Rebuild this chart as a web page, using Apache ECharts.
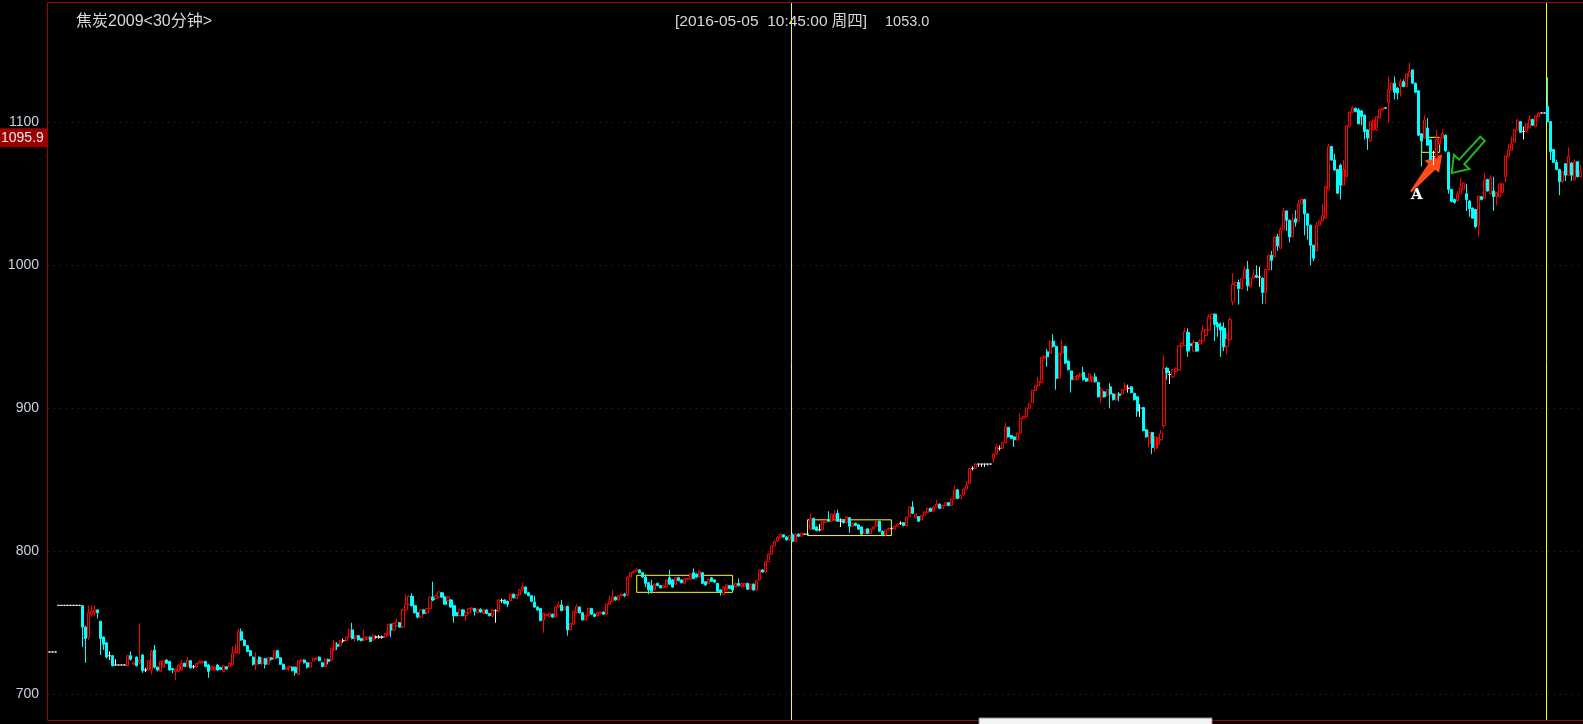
<!DOCTYPE html>
<html><head><meta charset="utf-8">
<script src="https://cdn.jsdelivr.net/npm/echarts@6/dist/echarts.min.js"></script>
<style>html,body{margin:0;padding:0;background:#000;overflow:hidden}#c{width:1583px;height:724px;}</style>
</head><body><div id="c"></div>
<script>
// candle values: [open, close, low, high]
const ohlcA = [
[729.6,729.6,729.6,729.6],[729.6,729.6,729.6,729.6],[729.6,729.6,729.6,729.6],
[762.2,762.2,762.2,762.2],[762.2,762.2,762.2,762.2],[762.2,762.2,762.2,762.2],[762.2,762.2,762.2,762.2],
[762.2,762.2,762.2,762.2],[762.2,762.2,762.2,762.2],[762.2,762.2,762.2,762.2],[762.2,762.2,762.2,762.2],
[762,747,733,762],[747,739,722,748],[740,757,738,762],[756,758,754,762],[757,759,755,762],
[759,757,753,759.5],[751,739,727.5,751.5],[740,735,731,740.5],[736,726,725,736.5],[727,727,724,730],
[727,720,719.5,727.5],[720.5,720.5,720.5,724.5],[720.5,720.5,720.5,720.5],[720.5,720.5,720.5,720.5],[720.5,720.5,720.5,720.5],
[720,727,719.5,727.5],[727,724.5,723.5,730],[721,722,720.5,723],[726,720,719.5,726.5],[722,724,721,749.6],
[727.5,716.6,715,728],[717,717,715.5,718.5],[717,723.5,716.5,724],[717,730,714,731],[731,719,718,734.5],
[719,717,716,719.5],[716,723,715.5,723.5],[719,723.5,718.5,724],[724,721.7,721,724.5],[723,717,716.5,723.5],
[718,717,714.7,718.5],[716,717.5,710,718],[716,720.5,715.5,721],[717,721.7,716.5,724],[721.7,719.5,719,722],
[719.5,724,719,726],[723.5,718.5,718,724],[719.3,719.3,718,720.5],[719,721.7,718.5,722],[721.7,723,721.5,723.5],
[722,723,721.5,723.5],[723,719.5,719,723.5],[720.5,716,711.5,721],[717,719.5,716.5,720],[717,719,716.5,719.5],
[720.5,717,716.5,721],[718.8,717.3,717,719],[716,720,715.5,720.5],[719.3,717.7,717.2,719.6],[719.3,721.7,719,722],
[720.5,728.6,720,733.6],[729,730,728.5,735]
];
const ohlcB = [
[728.6,743.8,728,746],[743.8,738,737.5,746],[738,734,733.5,738.5],[734,730,729.5,734.5],[730.5,727,726.5,731],
[726,721,720,726.5],[721,724,717,729.4],[726,721.5,721,726.5],[721.5,725,720,726],[725,721,718,725.5],
[721,725.5,720.5,726],[725.5,724.5,723.5,726],[724.5,730,724,731],[730.5,725.5,725,731],[725.5,721,720.5,726],
[721,717.5,717,721.5],[717.5,719,717,719.5],[718.5,719.5,716,720],[719,716.5,716,719.5],[719,715,713,719.5],
[714,723.5,713.5,724],[723,724,722,724.5],[724,722,721.5,724.5],[722,719,718,722.5],[719,722,718.5,722.5],
[723.5,725,723,725.5],[724.5,725.5,724,726],[726,723.5,723,726.5],[722,719.5,719,722.5],[719.5,724.5,719,725],
[724.5,723,721,725]
];
const ohlcC = [
[724,732,723,732.5],[731,736,730.5,738],[735,733.5,731,736.5],[734,737.5,733.5,738],[737.5,737.5,736,739],
[737.5,740,737,740.5],[740,745,739.5,746],[745,739,738.5,750],[739,741,736.5,741.5],[741,738,737.5,741.5],
[739,737.5,737,739.5],[738,740,737.5,745],[738.5,740,738,740.5],[740,737,736.5,740.5],[738,741,737.5,742],
[740,740,739,741],[740,740,739,741.5],[740,740,739,741],[740,742.6,739.5,743],[741.5,748.8,741,749.5],
[749,745,740,749.5],[745,749.6,744.5,750],[748,750.5,747.5,753],[750,747,746.5,750.5],[747,759,746.5,760],
[759,763,758.5,770],[763,768.5,762.5,769],[768.5,762,761.5,770.6],[762,757,756.5,762.5],[757,754,753,757.5],
[754,759,753.5,759.5],[759,756.5,756,759.5],[757,760,756.5,760.5],[760,768,759.5,768.5],[768,766,765,778.8],
[767,769,766.5,769.5],[768,771.6,767.5,772],[771,768,767.5,771.5],[768,763,762.5,768.5],[765.5,768,765,768.5],
[766,761,760.5,766.5],[762,755,750,762.5],[757,755,754.5,757.5],[755,759,754.5,759.5],[759,755,754.5,759.5],
[755,757,751,757.5],[757,760,756.5,760.5],[759.5,760.5,759,761],[760,758,755,760.5],[757,759.5,756.5,760],
[759.5,757.5,757,760],[756.5,759,756,759.5],[759,756.5,756,759.5],[756.5,755,754.5,757],[754.5,759,754,759.5],
[758.5,758.5,750,759.5],[758,766,757.5,766.5],[765.5,765.5,764,767],[766,763.6,763,766.5],[765,763,761,765.5],
[765.5,770,765,770.5],[770,767.5,767,770.5],[767,769.5,766.5,770],[769.5,773,769,773.5],[773,775.5,772.5,778],
[775,770.6,770,775.5],[771,769,768.5,771.5],[769,765,764.5,769.5],[764.5,761,760.5,769],[761,759,758.5,761.5],
[760,751.5,751,760.5],[752,756.6,743,757],[755,756,754.5,756.5],[754.5,756.6,754,757],[756,754,753.5,756.5],
[754,761,753.5,761.5],[761,762.5,760.5,765],[762.5,758.5,758,766],[759,761,758.5,761.5],[761.5,745,741,762],
[745,749.5,744.5,750],[749,758,748.5,758.5],[757,761.5,756.5,763],[761,757,756.5,761.5],[757,752,751.5,757.5],
[752,755,751.5,755.5],[755,760,754.5,760.5],[760,756,755.5,760.5],[756,754.5,754,756.5],[755,757,754.5,757.5],
[756.5,757.5,756,758],[757.5,756,755.5,758],[756,763,755.5,763.5],[763,765,762.5,769],[765,768,764.5,773],
[768,766,765.5,768.5],[766,769,765.5,769.5],[769,770,768.5,770.5],[770,769,768,771]
];
const ohlcD = [
[769.5,782,769,782.5],[782,785,781.5,785.5],[785,786,784.5,786.5],[786,787.5,785.5,788],[787,785,784.5,787.5],
[785,782,781.5,785.5],[782,777.6,775,784],[778,773,770,778.5],[776,772,770.6,780],[773,777,772.5,777.5],
[777.6,776,775.5,778],[776,774.5,774,776.5],[774.5,776,774,776.5],[775,780,774.5,780.5],[781.5,777,776.5,787],
[780,775,774.5,780.5],[777,781.5,776.5,782],[781.5,779.5,779,782],[780,778,777.5,780.5],[777.6,781,777,781.5],
[780,781,779.5,781.5],[780.5,784,780,784.5],[785,781,780.5,788],[784,782,781.5,784.5],[782,786,781.5,786.5],
[785,777.6,777,785.5],[778.7,776.5,776,779],[777.5,780.5,777,781],[781.5,779,778.5,782],[780,778.5,778,780.5],
[777.5,772,771.5,778],[773,771,769,773.5],[770,775,769.5,775.5],[773,776.5,772.5,777],[776,774,773.5,776.5],
[776,773,772.5,776.5],[775,777.6,774.5,778],[777.6,776,775.5,781],[775.3,777.6,775,778],[775.3,777.6,775,778],
[777.6,773.5,773,778],[773.5,777,773,777.5],[777,773,772.5,777.5],[773,779.5,772.5,780],[780,787,779.5,787.5],
[787,785.5,785,787.5],[785.5,792.8,785,793],[792.8,798,792.5,798.5],[798,803.7,797.5,804],[803.7,807,803.5,807.5],
[807,809.8,806.5,810.5],[809.5,812,809,812.5],[811.5,810,809.5,812],[810,808,807.5,810.5],[808,811,807.5,811.5],
[811.5,807,806.5,812.5],[806.8,812,806.5,812.5],[812,810.5,810,812.5],[810.5,812.6,810,813],[812,812,812,812],
[812,812,812,812]
];
const ohlcE = [
[815.5,823,815,826.6],[823,815.5,815,823.5],[817,814.5,814,817.5],[815,815,814,819],[815,821,814.5,821.5],
[820,821.6,819.5,822],[822,821,820.5,828],[821,826,820.5,826.5],[822.5,826,822,829],[826.6,821,820.5,829],
[821,821,817,823],[821.5,820,819.5,822],[820,824,819.5,824.5],[823.5,817.5,813,824],[817.5,819.6,817,820],
[819.6,818,817.5,820],[818.5,815.5,815,819],[817,812,811.5,817.5],[812.5,815,812,815.5],[815.7,812.5,812,816],
[812.5,815.5,812,816],[815.5,817,815,817.5],[817.5,820.7,817,822],[821,814,813.5,821.5],[814,811.6,811,814.5],
[811.5,814.7,811,815],[815,816,814.5,816.5],[816,816,815,817],[815.5,817.5,815,818],[817.5,819,817,819.5],
[819.6,819.6,818.5,821],[820,818,817.5,820.5],[818,824,817.5,824.5],[824.3,831,824,831.5],[831,826.6,826,835],
[823.5,826,823,826.5],[824.3,821,820.5,824.5],[822,825,821.5,825.5],[825,827.5,824.5,828],[827,830,826.5,830.5],
[830,828,827.5,830.5],[828,831,827.5,831.5],[831,833,830.5,836],[833,830,829.5,833.5],[830,832,829.5,832.5],
[832,834,831.5,834.5],[834,832,831.5,834.5],[832,836.5,831.5,837]
];
const ohlcF = [
[836.5,843,836,846],[843,837,836.5,843.5],[837,839,836.5,839.5],[839.5,843.5,839,844],[843.5,846.5,843,849],
[847.5,858,847,858.5],[858,858,856.5,859.5],[858,861,857.5,861.5],[861,861,859,861],[861,861,859,861],
[861,861,859,861],[861,861,860,861],[861,861,861,861],[864.6,868,862,868.5],[868,873,867.5,875],
[872,872,870.5,874],[872,876,871.5,876.5],[876,887,875.5,890],[886.7,880,879.5,887],[881,879,878.5,881.5],
[880,878,873,880.5],[878,882.6,877.5,883],[882.6,893,882,896.5],[893,894.3,892.5,894.8],[894,900,893.5,900.5],
[900,903,899.5,903.5],[904,912.5,903.5,913],[912.5,915.6,912,916],[915.6,918.8,915,922],[918,935.6,917.5,936],
[935,936.5,934.5,937],[939.5,936,929,941.5],[938.5,946.9,938,947.5],[947,943.3,942.5,951.9],[943.3,921,913,944],
[921,938.6,920.5,939],[938.6,943.3,938,948],[943.3,931.6,931,943.8],[933,927,926.5,933.5],[926,920,911,926.5],
[920,922,919.5,922.5],[920,923,919.5,923.5],[922.5,924.5,922,925],[925,920,919.5,929],[921,919,918.5,921.5],
[919,924,918.5,924.5],[918.5,922,918,922.5],[922,918.5,918,924.5],[918,908,907.5,918.5],[908,913,904,915],
[911.5,908,907.5,912],[909.2,913,908.5,913.5],[915,910,900,917.6],[910,906,905.5,910.5],[906,910,905.5,910.5],
[910,909,905,911.5],[910,913,909.5,913.5],[913,915.5,912.5,918],[914,914,911,916.5],[915,911,910.5,915.5],
[910.5,906,905.5,911],[908,898,894,908.5],[900,900,894,903],[900.5,884.5,884,901],[885,880,879.5,885.5],
[875.5,883,872.5,884.6],[883,872.6,868,883.5],[872,880,869.6,880.5],[875,879,872,880],[878,882.6,877.5,885],
[888,928,886,937]
];
const ohlcG = [
[928,925,920,929],[923.6,923.6,917,926],[922,927,921.5,927.5],[926,928,925.5,928.5],[927,943.6,926.5,944],
[943.6,945.5,943,946],[944,953.6,943.5,956],[953,940,936,956],[945,944,943.5,945.5],[940,946,939.5,948],
[946,940,939.5,946.5],[945,947,944.5,948],[947,954,946.5,958],[951,955,950.5,955.5],[954.7,964,954.2,966],
[963,965.8,962.5,966.3],[965.8,958.8,947,966.3],[959,957,950,960.5],[957,954.7,936,960],[956,943,940,960],
[943,948.5,938,953],[948,962,947.5,964],[974.5,986.7,972,994.5],[986,988,985.5,988.5],[988,983.7,972.5,990],
[983.7,990.7,983,991],[991,997,990.5,999],[997.2,985.7,982,1003],[985,991,984.5,991.5],[991,993.2,990.5,997],
[993,991.6,991,1000],[991.8,991.8,985,999],[991,981,972.8,991.5],[981,997,972.8,997.5],[997,1007,996.5,1007.5],
[1007,1003.5,996.6,1010],[1006,1019.8,1005.5,1020.3],[1020,1013.5,1010,1022],[1012,1025,1011.5,1027],[1025,1038,1024.5,1040],
[1038,1031.5,1024,1038.5],[1031.5,1019.8,1016,1032],[1020,1031.5,1019.5,1036],[1032.5,1030,1027,1038.5],[1031,1043,1030.5,1046],
[1043,1046,1042.5,1046.5],[1046,1036,1021,1046.5],[1036,1028,1018,1036.5],[1028,1014,1000,1028.5],[1014,1005,1003,1014.5],
[1010,1028,1009.5,1030],[1028,1031,1027.5,1031.5],[1031,1035,1030.5,1043],[1033,1055,1032.5,1056]
];
const ohlcH = [
[1053,1083,1052.5,1085],[1083,1073.7,1073,1083.5],[1073.7,1066.7,1066,1078],[1067,1050.4,1050,1067.5],[1070,1056,1046,1071],
[1056,1067,1055.5,1073.7],[1062,1097.5,1061.5,1098],[1097,1107,1096.5,1107.5],[1107,1110,1106.5,1111],[1109.8,1107.5,1107,1110.3],
[1108.7,1099,1098.5,1110],[1108,1104,1098,1108.5],[1105,1093.5,1088,1105.5],[1094.7,1089,1080.7,1095.2],[1087,1100.5,1086.5,1101],
[1094.7,1101.6,1094.2,1102],[1094.7,1104,1094.2,1104.5],[1103,1109,1102.5,1109.5],[1108.5,1110,1108,1110.5],[1110,1110,1110,1110],
[1113.7,1122.7,1100,1132],[1122.7,1127.3,1122.2,1127.8],[1127.3,1121,1116,1132],[1124,1120.5,1116,1124.5],[1125,1128.4,1118,1130.5],
[1128.4,1125,1124.5,1130],[1125,1133.8,1124.5,1134.3],[1132,1135.5,1131.5,1141.8],[1136.6,1127.3,1126.8,1137],[1127.3,1121,1120.5,1127.8],
[1122,1091,1090.5,1122.5],[1092,1087,1069,1092.5],[1089,1101.6,1088.5,1105],[1096,1084,1083.5,1103],[1087.7,1074,1073.5,1088],
[1076,1076,1070,1080],[1075,1088,1074.5,1094.7],[1085,1089,1084.5,1089.5],[1089,1092,1088.5,1095],[1091,1080,1079.5,1091.5],
[1079,1053,1050,1079.5],[1053,1044.6,1044,1053.5],[1046,1044,1043,1046.5],[1045,1050,1044.5,1052],[1050,1054,1049.5,1061],
[1053,1057.5,1052.5,1058],[1050,1046,1038,1057],[1045,1039.6,1034,1045.5],[1040,1033,1032.5,1040.5],[1039,1027,1026,1039.5],
[1028,1048.3,1020,1048.8],[1048,1046,1045.5,1048.5],[1046.8,1059.8,1046.3,1064.5],[1060,1052,1051.5,1060.5],[1050,1061,1049.5,1063],
[1052,1048,1038,1062],[1048,1051,1042,1051.5],[1047.9,1057,1047.4,1057.5],[1051,1057,1050.5,1057.5],[1062,1076.5,1058,1077],
[1076,1080.7,1075.5,1085],[1080.5,1085,1080,1090],[1086,1094.7,1085.5,1095.2],[1094.7,1101.6,1094.2,1102],[1100.5,1093,1092.5,1101],
[1093.5,1093.5,1088,1097],[1093.5,1099,1093,1099.5],[1096,1102,1095.5,1105],[1102,1098,1097.5,1102.5],[1097,1104.5,1096.5,1105],
[1104,1106.5,1103.5,1107],[1106.5,1106.5,1106.5,1106.5],[1106.5,1106.5,1106.5,1106.5],
[1111,1100.5,1100,1131.5],[1100.5,1079.5,1073.7,1101],[1081,1072,1071.5,1081.5],[1072,1067,1066.5,1074],[1067,1058.5,1049,1067.5],
[1058.5,1065.5,1058,1066],[1071,1063,1059,1071.5],[1063,1076,1062.5,1082.5],[1071.5,1063,1059,1072],[1059.7,1072.4,1059.2,1074],
[1072.4,1062,1061.5,1072.9],[1062,1066,1061.5,1070]
];
const yTicks = [700, 800, 900, 1000, 1100];
const monthBreaks = [248, 500];
// [fromSlot, toSlot, lowValue, highValue]
const boxes = [[196, 228, 771.3, 783.2], [253, 281, 811, 822], [458, 464, 1079, 1089.5]];
const titleText = '焦炭2009<30分钟>';
const cursorText = '[2016-05-05  10:45:00 周四]';
const cursorValue = '1053.0';
const priceTag = 1095.9;

const ohlc = [].concat(ohlcA, ohlcB, ohlcC, ohlcD, ohlcE, ohlcF, ohlcG, ohlcH);
const categories = ohlc.map((d, i) => String(i));

(function () {
const FONT = "'Liberation Sans','Noto Sans CJK SC',sans-serif";
const FRAME = '#a00000';
const chart = echarts.init(document.getElementById('c'), null, {renderer: 'canvas'});
chart.setOption({
  backgroundColor: '#000',
  animation: false,
  grid: {left: 48, right: 1, top: 2, bottom: 3, show: false},
  xAxis: {
    type: 'category', data: categories, boundaryGap: true,
    axisLine: {show: false},
    axisTick: {show: false}, axisLabel: {show: false},
    splitLine: {show: true, showMinLine: true, showMaxLine: false,
      interval: (i) => monthBreaks.indexOf(i) >= 0,
      lineStyle: {color: '#ffff00', width: 1}}
  },
  yAxis: {
    type: 'value', min: 681.33, max: 1184.13, scale: true,
    axisLine: {show: false},
    axisTick: {show: false, customValues: yTicks},
    axisLabel: {customValues: yTicks, formatter: (v) => String(Math.round(v)),
      color: '#c8d0e0', fontSize: 14, margin: 9, fontFamily: FONT},
    splitLine: {show: false}
  },
  series: [{
    type: 'candlestick', data: ohlc, barWidth: 2.6,
    itemStyle: {color: '#000', color0: '#00ffff', borderColor: '#ff0000', borderColor0: '#00ffff',
      borderColorDoji: '#ffffff', borderWidth: 1},
    markLine: {silent: true, symbol: 'none', animation: false, label: {show: false},
      lineStyle: {color: '#a00000', type: [1, 5], width: 1},
      data: yTicks.map(v => ({yAxis: v}))},
    markArea: {silent: true, label: {show: false},
      itemStyle: {color: 'rgba(0,0,0,0)', borderColor: '#ffff00', borderWidth: 1},
      data: boxes.map(b => [{xAxis: b[0], yAxis: b[3]}, {xAxis: b[1], yAxis: b[2]}])}
  }]
});

function px(slot, val) {
  const f = Math.floor(slot);
  const a = chart.convertToPixel({gridIndex: 0}, [f, val]);
  const b = chart.convertToPixel({gridIndex: 0}, [f + 1, val]);
  return [a[0] + (slot - f) * (b[0] - a[0]), a[1]];
}
function arrow(T, P, w0, w1, hw, hl) {
  const dx = P[0] - T[0], dy = P[1] - T[1], L = Math.hypot(dx, dy);
  const ux = dx / L, uy = dy / L, nx = -uy, ny = ux;
  const B = [P[0] - ux * hl, P[1] - uy * hl];
  return [
    [T[0] + nx * w0 / 2, T[1] + ny * w0 / 2], [B[0] + nx * w1 / 2, B[1] + ny * w1 / 2],
    [B[0] + nx * hw / 2, B[1] + ny * hw / 2], P,
    [B[0] - nx * hw / 2, B[1] - ny * hw / 2], [B[0] - nx * w1 / 2, B[1] - ny * w1 / 2],
    [T[0] - nx * w0 / 2, T[1] - ny * w0 / 2]
  ];
}
const orangeTail = px(454.4, 1051.5), orangeTip = px(464.8, 1077.5);
const greenTail = px(478.3, 1088.5), greenTip = px(468.0, 1064.5);
const aPos = px(456.4, 1049);
const tagY = px(0, priceTag)[1];
const rect = chart.getModel().getComponent('grid', 0).coordinateSystem.getRect();
const L = Math.round(rect.x) - 0.5, T = Math.round(rect.y) + 0.5, B = Math.round(rect.y + rect.height) - 0.5;

chart.setOption({
  graphic: [
    {type: 'line', shape: {x1: L, y1: T, x2: 1583, y2: T}, style: {stroke: FRAME, lineWidth: 1}, silent: true},
    {type: 'line', shape: {x1: L, y1: T, x2: L, y2: B}, style: {stroke: FRAME, lineWidth: 1}, silent: true},
    {type: 'line', shape: {x1: L, y1: B, x2: 1583, y2: B}, style: {stroke: FRAME, lineWidth: 1}, silent: true},
    {type: 'text', x: 76, y: 22, style: {text: titleText, fill: '#d8d8d8', font: "16px " + FONT, textVerticalAlign: 'middle'}},
    {type: 'text', x: 675, y: 22, style: {text: cursorText, fill: '#d8d8d8', font: "15.5px " + FONT, textVerticalAlign: 'middle'}},
    {type: 'text', x: 885, y: 22, style: {text: cursorValue, fill: '#d8d8d8', font: "14.5px " + FONT, textVerticalAlign: 'middle'}},
    {type: 'rect', shape: {x: 0, y: tagY, width: 47, height: 19}, style: {fill: '#9a0000'}},
    {type: 'text', x: 1, y: tagY + 9.5, style: {text: '1095.9', fill: '#e8e8e8', font: "14px " + FONT, textVerticalAlign: 'middle'}},
    {type: 'polygon', shape: {points: arrow(orangeTail, orangeTip, 2, 9, 19, 16)}, style: {fill: '#ff4a1a'}},
    {type: 'polygon', shape: {points: arrow(greenTail, greenTip, 6, 7, 21, 15)}, style: {fill: '#000', stroke: '#22b022', lineWidth: 2}},
    {type: 'text', x: aPos[0], y: aPos[1], style: {text: 'A', fill: '#ffffff', stroke: '#303030', lineWidth: 1, font: "bold 15px 'DejaVu Serif',serif", textAlign: 'center', textVerticalAlign: 'middle'}},
    {type: 'rect', shape: {x: 979, y: 718, width: 233, height: 8}, style: {fill: '#f4f4f4', stroke: '#8a8a8a', lineWidth: 1}}
  ]
});
})();
</script>
</body></html>
